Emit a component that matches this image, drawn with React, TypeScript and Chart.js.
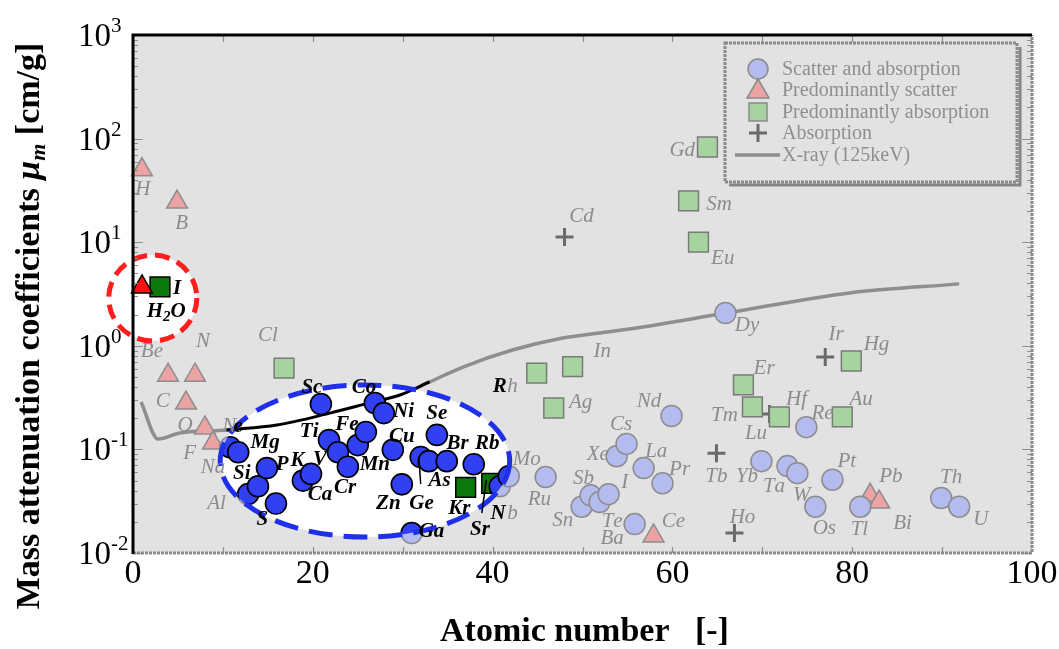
import React, { useEffect, useRef } from 'react';
import { Chart, registerables } from 'chart.js';

Chart.register(...registerables);

const SERIF = "'Liberation Serif', 'Times New Roman', Times, serif";

// Scatter and absorption (circles): atomic number / mass attenuation coefficient
const scatterAbsZ = [10.8, 11.7, 12.8, 13.9, 14.9, 15.9, 18.9, 19.8, 20.9, 21.8, 22.8, 23.9, 25.0, 25.9, 26.9, 27.9, 28.9, 29.9, 31.0, 32.0, 32.9, 33.8, 34.9, 37.9, 40.8, 41.8, 45.9, 49.9, 50.9, 51.9, 52.9, 53.8, 54.9, 55.8, 56.8, 58.9, 59.9, 65.9, 69.9, 72.8, 73.9, 74.9, 75.9, 77.8, 80.9, 89.9, 91.9];
const scatterAbsMu = [0.105, 0.094, 0.037, 0.044, 0.066, 0.030, 0.050, 0.058, 0.274, 0.123, 0.094, 0.068, 0.110, 0.147, 0.28, 0.224, 0.099, 0.046, 0.0156, 0.0845, 0.077, 0.138, 0.077, 0.072, 0.044, 0.055, 0.054, 0.028, 0.036, 0.031, 0.037, 0.086, 0.113, 0.019, 0.066, 0.047, 0.21, 2.07, 0.077, 0.069, 0.059, 0.164, 0.028, 0.051, 0.028, 0.034, 0.028];

// Predominantly scatter (triangles)
const scatterZ = [1.0, 4.9, 3.9, 6.9, 5.9, 8.0, 8.9, 57.9, 82.0, 83.0];
const scatterMu = [50, 24.4, 0.52, 0.52, 0.28, 0.161, 0.115, 0.0146, 0.036, 0.031];

// Predominantly absorption (squares)
const absorbMainZ = [16.8, 37.0, 39.9, 44.9, 46.8, 48.9, 61.8, 62.9, 63.9, 67.9, 68.9, 71.9, 78.9, 79.9];
const absorbMainMu = [0.61, 0.043, 0.047, 0.546, 0.251, 0.63, 25, 10.0, 83, 0.419, 0.257, 0.206, 0.206, 0.713];

// Absorption (crosses)
const absorbZ = [48.0, 64.9, 66.9, 70.8, 77.0];
const absorbMu = [11.2, 0.092, 0.0156, 0.22, 0.78];

// Highlighted references (red circle)
const waterZ = [1.0];
const waterMu = [3.7];
const iodineZ = [3.0];
const iodineMu = [3.7];

// X-ray (125 keV) curve
const xrayZ = [0.9, 2.8, 5.2, 10.4, 16.0, 21.9, 26.3, 29.7, 33.0, 36.7, 42.2, 47.8, 51.9, 55.2, 66.0, 79.7, 91.9];
const xrayMu = [0.287, 0.126, 0.144, 0.154, 0.172, 0.224, 0.281, 0.335, 0.448, 0.624, 0.91, 1.19, 1.33, 1.45, 2.07, 3.24, 3.96];
const xrayBoldFrom = 3;
const xrayBoldTo = 8;

// axis ticks
const yTickValues = [1000, 100, 10, 1, 0.1, 0.01];
const yTickExponents = ['3', '2', '1', '0', '-1', '-2'];

const legendLabels = ['Scatter and absorption', 'Predominantly scatter', 'Predominantly absorption', 'Absorption', 'X-ray (125keV)'];

// highlight zones (data coordinates: centre Z, centre mu, radius in Z, radius in decades)
const highlightZone = { cz: 25.8, cmu: 0.0773, rz: 16.1, rdec: 0.734 };
const waterZone = { cz: 2.2, cmu: 2.89, rz: 4.9, rdec: 0.415 };

// element labels outside the highlight: [text, Z, mu]
const greyLabels: [string, number, number][] = [
  ['H', 1.1, 33.3], ['B', 5.4, 15.7], ['Be', 2.1, 0.91], ['N', 7.8, 1.14], ['C', 3.3, 0.30],
  ['O', 5.8, 0.176], ['F', 6.3, 0.0944], ['Na', 8.9, 0.0692], ['Al', 9.3, 0.031], ['Cl', 15.0, 1.30],
  ['N', 10.7, 0.172], ['Mo', 43.8, 0.0826], ['Ru', 45.2, 0.034], ['b', 42.2, 0.0249], ['h', 42.2, 0.419],
  ['In', 52.2, 0.91], ['Ag', 49.8, 0.293], ['Sb', 50.1, 0.0542], ['Sn', 47.8, 0.0213], ['Te', 53.3, 0.0208],
  ['Ba', 53.3, 0.01426], ['Xe', 51.7, 0.0923], ['Cs', 54.3, 0.18], ['I', 54.7, 0.0496], ['La', 58.2, 0.0986],
  ['Pr', 60.8, 0.0661], ['Nd', 57.4, 0.30], ['Ce', 60.1, 0.0208], ['Tb', 64.9, 0.0566], ['Ho', 67.8, 0.0228],
  ['Yb', 68.3, 0.0566], ['Ta', 71.3, 0.0453], ['W', 74.4, 0.0371], ['Os', 76.9, 0.0178], ['Pt', 79.4, 0.079],
  ['Tm', 65.8, 0.22], ['Lu', 69.3, 0.147], ['Er', 70.2, 0.624], ['Hf', 73.8, 0.313], ['Re', 76.7, 0.23],
  ['Au', 81.0, 0.313], ['Ir', 78.2, 1.33], ['Hg', 82.7, 1.06], ['Tl', 80.8, 0.0174], ['Pb', 84.3, 0.0566],
  ['Bi', 85.6, 0.0199], ['Th', 91.0, 0.0554], ['U', 94.3, 0.0218], ['Gd', 61.1, 79.4], ['Sm', 65.2, 23.9],
  ['Eu', 65.6, 7.2], ['Dy', 68.3, 1.62], ['Cd', 49.9, 18.3],
];

// element labels inside the highlights: [text, Z, mu]
const boldLabels: [string, number, number][] = [
  ['H_2O', 3.7, 2.22], ['I', 4.9, 3.7], ['e', 11.7, 0.172], ['Mg', 14.7, 0.1205], ['Si', 12.1, 0.0605],
  ['P', 16.6, 0.074], ['S', 14.4, 0.0218], ['K', 18.3, 0.0807], ['V', 20.8, 0.0826], ['Ca', 20.8, 0.0379],
  ['Cr', 23.6, 0.0444], ['Ti', 19.6, 0.154], ['Fe', 23.8, 0.18], ['Sc', 19.9, 0.409], ['Co', 25.7, 0.409],
  ['Ni', 30.1, 0.24], ['Cu', 29.9, 0.138], ['Mn', 26.9, 0.074], ['Zn', 28.4, 0.031], ['Ge', 32.1, 0.031],
  ['Ga', 33.2, 0.0167], ['Se', 33.8, 0.23], ['Br', 36.1, 0.118], ['Rb', 39.4, 0.118], ['As', 34.1, 0.0518],
  ['Kr', 36.3, 0.0278], ['Sr', 38.6, 0.0174], ['N', 40.6, 0.0249], ['R', 40.8, 0.419],
];

// leader lines: [Z1, mu1, Z2, mu2]
const leaderLines: [number, number, number, number][] = [
  [31.8, 0.0845, 32.0, 0.0464],
  [39.3, 0.0507, 38.8, 0.0243],
];

const pts = (zs: number[], ms: number[]) => zs.map((z, i) => ({ x: z, y: ms[i] }));

function zonePath(chart: any, zone: any) {
  const xs = chart.scales.x;
  const ys = chart.scales.y;
  const cx = xs.getPixelForValue(zone.cz);
  const cy = ys.getPixelForValue(zone.cmu);
  const rx = xs.getPixelForValue(zone.cz + zone.rz) - cx;
  const ry = cy - ys.getPixelForValue(zone.cmu * Math.pow(10, zone.rdec));
  const ctx = chart.ctx;
  ctx.beginPath();
  ctx.ellipse(cx, cy, rx, ry, 0, 0, Math.PI * 2);
}

function drawRich(ctx: CanvasRenderingContext2D, text: string, x: number, y: number, font: (s: number) => string, size: number) {
  const segs: { t: string; sub: boolean }[] = [];
  for (let i = 0; i < text.length; i++) {
    if (text[i] === '_' && i + 1 < text.length) {
      segs.push({ t: text[i + 1], sub: true });
      i++;
    } else segs.push({ t: text[i], sub: false });
  }
  const subSize = Math.round(size * 0.7);
  let total = 0;
  const widths = segs.map((s) => {
    ctx.font = font(s.sub ? subSize : size);
    const w = ctx.measureText(s.t).width;
    total += w;
    return w;
  });
  let cx = x - total / 2;
  ctx.textAlign = 'left';
  ctx.textBaseline = 'alphabetic';
  const base = y + size * 0.33;
  segs.forEach((s, i) => {
    ctx.font = font(s.sub ? subSize : size);
    ctx.fillText(s.t, cx, s.sub ? base + size * 0.22 : base);
    cx += widths[i];
  });
}

function drawMarker(ctx: CanvasRenderingContext2D, kind: string, x: number, y: number) {
  ctx.save();
  ctx.lineWidth = 1.5;
  ctx.strokeStyle = '#8a8a8a';
  if (kind === 'circle') {
    ctx.fillStyle = '#b4bbef';
    ctx.beginPath();
    ctx.arc(x, y, 10, 0, Math.PI * 2);
    ctx.fill();
    ctx.stroke();
  } else if (kind === 'triangle') {
    ctx.fillStyle = '#eca3a3';
    ctx.beginPath();
    ctx.moveTo(x, y - 11);
    ctx.lineTo(x + 11, y + 8);
    ctx.lineTo(x - 11, y + 8);
    ctx.closePath();
    ctx.fill();
    ctx.stroke();
  } else if (kind === 'rect') {
    ctx.fillStyle = '#a6d39f';
    ctx.fillRect(x - 9, y - 9, 18, 18);
    ctx.strokeRect(x - 9, y - 9, 18, 18);
  } else if (kind === 'cross') {
    ctx.strokeStyle = '#6a6a6a';
    ctx.lineWidth = 3;
    ctx.beginPath();
    ctx.moveTo(x - 9, y);
    ctx.lineTo(x + 9, y);
    ctx.moveTo(x, y - 9);
    ctx.lineTo(x, y + 9);
    ctx.stroke();
  } else {
    ctx.strokeStyle = '#8e8e8e';
    ctx.lineWidth = 3.5;
    ctx.beginPath();
    ctx.moveTo(x - 23, y);
    ctx.lineTo(x + 22, y);
    ctx.stroke();
  }
  ctx.restore();
}

const overlayPlugin = {
  id: 'overlay',
  beforeDraw(chart: any) {
    const { ctx, chartArea: a } = chart;
    ctx.save();
    ctx.fillStyle = '#ffffff';
    ctx.fillRect(0, 0, chart.width, chart.height);
    ctx.fillStyle = '#e2e2e2';
    ctx.fillRect(a.left, a.top, a.right - a.left, a.bottom - a.top);
    ctx.restore();
  },
  beforeDatasetDraw(chart: any, args: any) {
    const ctx = chart.ctx;
    if (args.index === 6) {
      ctx.save();
      ctx.fillStyle = '#ffffff';
      zonePath(chart, highlightZone);
      ctx.fill();
      zonePath(chart, waterZone);
      ctx.fill();
      ctx.restore();
    }
    if (args.index >= 2 && args.index <= 5) {
      ctx.save();
      zonePath(chart, highlightZone);
      ctx.clip();
    }
  },
  afterDatasetDraw(chart: any, args: any) {
    if (args.index >= 2 && args.index <= 5) chart.ctx.restore();
  },
  afterDatasetsDraw(chart: any) {
    const ctx = chart.ctx;
    const xs = chart.scales.x;
    const ys = chart.scales.y;
    ctx.save();
    ctx.lineWidth = 5;
    ctx.setLineDash([24, 11]);
    ctx.strokeStyle = '#1f2fea';
    zonePath(chart, highlightZone);
    ctx.stroke();
    ctx.setLineDash([15, 8]);
    ctx.strokeStyle = '#ff1d1d';
    zonePath(chart, waterZone);
    ctx.stroke();
    ctx.setLineDash([]);
    ctx.strokeStyle = '#000';
    ctx.lineWidth = 1.5;
    leaderLines.forEach(([z1, m1, z2, m2]) => {
      ctx.beginPath();
      ctx.moveTo(xs.getPixelForValue(z1), ys.getPixelForValue(m1));
      ctx.lineTo(xs.getPixelForValue(z2), ys.getPixelForValue(m2));
      ctx.stroke();
    });
    ctx.fillStyle = '#8c8c8c';
    greyLabels.forEach(([t, z, m]) => {
      drawRich(ctx, t, xs.getPixelForValue(z), ys.getPixelForValue(m), (s) => `italic ${s}px ${SERIF}`, 21);
    });
    ctx.fillStyle = '#000';
    boldLabels.forEach(([t, z, m]) => {
      drawRich(ctx, t, xs.getPixelForValue(z), ys.getPixelForValue(m), (s) => `italic bold ${s}px ${SERIF}`, 21);
    });
    ctx.restore();
  },
  afterDraw(chart: any) {
    const { ctx, chartArea: a } = chart;
    const xs = chart.scales.x;
    const ys = chart.scales.y;
    ctx.save();
    // minor/major tick marks
    ctx.strokeStyle = '#8f8f8f';
    ctx.lineWidth = 1.2;
    for (let e = -2; e < 3; e++) {
      for (let k = 1; k < 10; k++) {
        const v = k * Math.pow(10, e);
        const y = Math.round(ys.getPixelForValue(v)) + 0.5;
        const len = k === 1 ? 10 : 5;
        ctx.beginPath();
        ctx.moveTo(a.left, y);
        ctx.lineTo(a.left + len, y);
        ctx.moveTo(a.right, y);
        ctx.lineTo(a.right - len, y);
        ctx.stroke();
      }
    }
    for (let z = 10; z < 100; z += 10) {
      const x = Math.round(xs.getPixelForValue(z)) + 0.5;
      ctx.beginPath();
      ctx.moveTo(x, a.top);
      ctx.lineTo(x, a.top + 7);
      ctx.moveTo(x, a.bottom);
      ctx.lineTo(x, a.bottom - 6);
      ctx.stroke();
    }
    // frame
    ctx.strokeStyle = '#8a8a8a';
    ctx.lineWidth = 3;
    ctx.setLineDash([3, 1]);
    ctx.beginPath();
    ctx.moveTo(a.left, a.bottom);
    ctx.lineTo(a.right, a.bottom);
    ctx.lineTo(a.right, a.top);
    ctx.stroke();
    ctx.setLineDash([]);
    ctx.strokeStyle = '#000';
    ctx.lineWidth = 3;
    ctx.beginPath();
    ctx.moveTo(a.left, a.bottom + 1);
    ctx.lineTo(a.left, a.top);
    ctx.lineTo(a.right, a.top);
    ctx.stroke();

    // y tick labels (10^n)
    ctx.fillStyle = '#000';
    ctx.textAlign = 'left';
    ctx.textBaseline = 'alphabetic';
    yTickValues.forEach((v, i) => {
      const y = ys.getPixelForValue(v);
      ctx.font = `33px ${SERIF}`;
      ctx.fillText('10', 78, y + 11);
      const w = ctx.measureText('10').width;
      ctx.font = `21px ${SERIF}`;
      ctx.fillText(yTickExponents[i], 78 + w, y - 3);
    });

    // axis titles
    ctx.font = `bold 34px ${SERIF}`;
    ctx.fillText('Atomic number   [-]', 440, 641);

    ctx.save();
    ctx.translate(39, 326);
    ctx.rotate(-Math.PI / 2);
    const parts = [
      { t: 'Mass attenuation coefficients ', f: `bold 34px ${SERIF}`, dy: 0 },
      { t: 'μ', f: `italic bold 34px ${SERIF}`, dy: 0 },
      { t: 'm', f: `italic bold 22px ${SERIF}`, dy: 6 },
      { t: ' [cm/g]', f: `bold 34px ${SERIF}`, dy: 0 },
    ];
    let total = 0;
    const ws = parts.map((p) => {
      ctx.font = p.f;
      const w = ctx.measureText(p.t).width;
      total += w;
      return w;
    });
    let px = -total / 2;
    parts.forEach((p, i) => {
      ctx.font = p.f;
      ctx.fillText(p.t, px, p.dy);
      px += ws[i];
    });
    ctx.restore();

    // legend
    const lx = 725, ly = 43, lw = 292, lh = 139;
    ctx.strokeStyle = '#858585';
    ctx.lineWidth = 3;
    ctx.beginPath();
    ctx.moveTo(lx + 4, ly + lh + 3);
    ctx.lineTo(lx + lw + 3, ly + lh + 3);
    ctx.lineTo(lx + lw + 3, ly + 4);
    ctx.stroke();
    ctx.fillStyle = '#e2e2e2';
    ctx.fillRect(lx, ly, lw, lh);
    ctx.strokeStyle = '#8a8a8a';
    ctx.lineWidth = 3;
    ctx.setLineDash([3, 1]);
    ctx.strokeRect(lx, ly, lw, lh);
    ctx.setLineDash([]);
    const kinds = ['circle', 'triangle', 'rect', 'cross', 'line'];
    const rowY = [69, 90, 112, 133, 155];
    kinds.forEach((k, i) => drawMarker(ctx, k, 758, rowY[i]));
    ctx.fillStyle = '#8f8f8f';
    ctx.font = `20px ${SERIF}`;
    ctx.textBaseline = 'middle';
    legendLabels.forEach((t, i) => ctx.fillText(t, 782, rowY[i] + 1));
    ctx.restore();
  },
};

export default function App() {
  const ref = useRef<HTMLCanvasElement>(null);
  useEffect(() => {
    const canvas = ref.current;
    if (!canvas) return;
    const mk = (label: string, data: any[], style: string, radius: number, bg: string, border: string, bw: number) => ({
      type: 'scatter' as const,
      label,
      data,
      pointStyle: style,
      pointRadius: radius,
      pointHoverRadius: radius,
      pointBackgroundColor: bg,
      pointBorderColor: border,
      pointBorderWidth: bw,
      clip: false as any,
    });
    const boldXray = pts(xrayZ.slice(xrayBoldFrom, xrayBoldTo + 1), xrayMu.slice(xrayBoldFrom, xrayBoldTo + 1));
    const datasets: any[] = [
      mk('H2O', pts(waterZ, waterMu), 'triangle', 12, '#ff1010', '#000', 1.5),
      mk('I', pts(iodineZ, iodineMu), 'rect', 14, '#0b780b', '#000', 1.5),
      mk('Scatter and absorption (highlight)', pts(scatterAbsZ, scatterAbsMu), 'circle', 10.5, '#3140f2', '#000', 1.6),
      mk('Predominantly scatter (highlight)', pts(scatterZ, scatterMu), 'triangle', 12, '#ff1010', '#000', 1.5),
      mk('Predominantly absorption (highlight)', pts(absorbMainZ, absorbMainMu), 'rect', 14, '#0b780b', '#000', 1.5),
      mk('Absorption (highlight)', pts(absorbZ, absorbMu), 'cross', 9, '#000', '#000', 2.5),
      { type: 'line', label: 'X-ray (highlight)', data: boldXray, borderColor: '#000', borderWidth: 3, pointRadius: 0, cubicInterpolationMode: 'monotone', fill: false, showLine: true },
      mk('Scatter and absorption', pts(scatterAbsZ, scatterAbsMu), 'circle', 10.5, '#b4bbef', '#8d8d8d', 1.5),
      mk('Predominantly scatter', pts(scatterZ, scatterMu), 'triangle', 12, '#eca3a3', '#8d8d8d', 1.5),
      mk('Predominantly absorption', pts(absorbMainZ, absorbMainMu), 'rect', 14, '#a6d39f', '#7a7a7a', 1.5),
      mk('Absorption', pts(absorbZ, absorbMu), 'cross', 9, '#6a6a6a', '#6a6a6a', 3),
      { type: 'line', label: 'X-ray (125keV)', data: pts(xrayZ, xrayMu), borderColor: '#8e8e8e', borderWidth: 3.5, pointRadius: 0, cubicInterpolationMode: 'monotone', fill: false, showLine: true },
    ];
    const chart = new Chart(canvas, {
      type: 'scatter',
      data: { datasets },
      options: {
        animation: false,
        responsive: false,
        maintainAspectRatio: false,
        devicePixelRatio: 1,
        events: [],
        layout: { padding: { top: 35, right: 27, left: 0, bottom: 0 } },
        plugins: { legend: { display: false }, tooltip: { enabled: false } },
        scales: {
          x: {
            type: 'linear',
            min: 0,
            max: 100,
            afterFit: (s: any) => { s.height = 96; },
            grid: { display: false, drawTicks: false, tickLength: 0 },
            border: { display: false },
            ticks: { stepSize: 20, font: { family: SERIF, size: 34 }, color: '#000', padding: 1, maxRotation: 0, autoSkip: false },
          },
          y: {
            type: 'logarithmic',
            min: 0.01,
            max: 1000,
            afterFit: (s: any) => { s.width = 133; },
            grid: { display: false },
            border: { display: false },
            ticks: { display: false },
          },
        },
      } as any,
      plugins: [overlayPlugin],
    });
    return () => chart.destroy();
  }, []);
  return (
    <div style={{ position: 'absolute', left: 0, top: 0, width: 1059, height: 649, background: '#fff' }}>
      <canvas ref={ref} width={1059} height={649} style={{ display: 'block' }} />
    </div>
  );
}
